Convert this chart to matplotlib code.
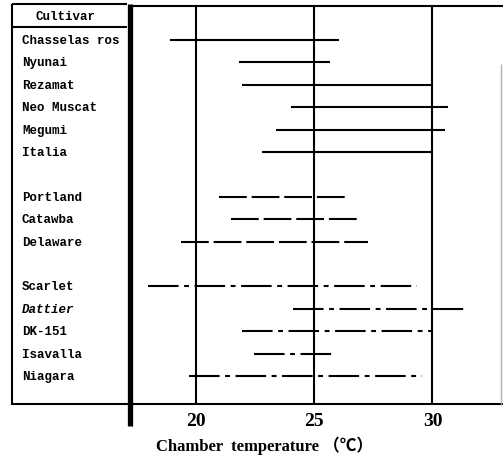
import matplotlib
matplotlib.use("Agg")
import matplotlib.pyplot as plt
from matplotlib.lines import Line2D
from matplotlib.transforms import blended_transform_factory

plt.rcParams['lines.scale_dashes'] = False

# cultivars in three groups, with range of chamber temperature (start, end)
group_solid = ["Chasselas ros", "Nyunai", "Rezamat", "Neo Muscat", "Megumi", "Italia"]
solid_start = [18.93, 21.83, 21.97, 24.04, 23.37, 22.82]
solid_end = [26.06, 25.68, 30.03, 30.66, 30.53, 30.0]

group_dash = ["Portland", "Catawba", "Delaware"]
dash_start = [21.0, 21.51, 19.37]
dash_end = [26.48, 26.83, 27.28]

group_dashdot = ["Scarlet", "Dattier", "DK-151", "Isavalla", "Niagara"]
dashdot_start = [17.99, 24.11, 21.97, 22.47, 19.72]
dashdot_end = [29.35, 31.46, 30.0, 25.8, 29.56]

xticks = [20, 25, 30]

W, H = 503, 460
fig = plt.figure(figsize=(W / 100, H / 100), dpi=100)


def fx(px):
    return px / W


def fy(py):
    return 1 - py / H


ax = fig.add_axes([fx(133), fy(405), fx(503) - fx(133), fy(7) - fy(405)])
ax.set_xlim(17.35, 32.98)
ax.set_ylim(16.25, -1.52)
for s in ax.spines.values():
    s.set_visible(False)
ax.set_xticks([])
ax.set_yticks([])

lw = 1.5
for x in xticks:
    ax.axvline(x, color="black", lw=lw)

groups = [
    (group_solid, solid_start, solid_end, "-"),
    (group_dash, dash_start, dash_end, (0, (20, 3.5))),
    (group_dashdot, dashdot_start, dashdot_end, (0, (22, 4, 3.5, 4))),
]

label_tr = blended_transform_factory(fig.transFigure, ax.transData)
row = 0
for names, starts, ends, ls in groups:
    for name, a, b in zip(names, starts, ends):
        ax.plot([a, b], [row, row], color="black", lw=lw, linestyle=ls,
                solid_capstyle="butt", dash_capstyle="butt")
        ax.text(fx(22), row, name, transform=label_tr, va="center", ha="left",
                family="Liberation Mono", fontsize=9, fontweight="bold",
                style="italic" if name == "Dattier" else "normal")
        row += 1
    row += 1

# table frame on the left
def fline(x0, y0, x1, y1, w=1.5, c="black"):
    fig.add_artist(Line2D([fx(x0), fx(x1)], [fy(y0), fy(y1)], color=c, lw=w,
                          solid_capstyle="butt"))

fline(12, 5, 12, 406)
fline(12, 5, 127, 5)
fline(12, 28, 127, 28)
fline(12, 405, 503, 405)
fline(133, 7, 503, 7)
fline(129.5, 5, 129.5, 427, w=3.8)
fline(501, 65, 501, 405, w=1.0, c="#b0b0b0")

fig.text(fx(65), fy(17), "Cultivar", ha="center", va="center",
         family="Liberation Mono", fontsize=9, fontweight="bold")

for x in xticks:
    ax.text(x, fy(421), str(x), transform=blended_transform_factory(ax.transData, fig.transFigure),
            ha="center", va="center", family="Liberation Serif", fontsize=14,
            fontweight="bold")

fig.text(fx(264), fy(446), "Chamber  temperature （℃）", ha="center", va="center",
         family=["Liberation Serif", "Noto Sans CJK JP"], fontsize=12,
         fontweight="bold")

fig.savefig("out.png", dpi=100)
